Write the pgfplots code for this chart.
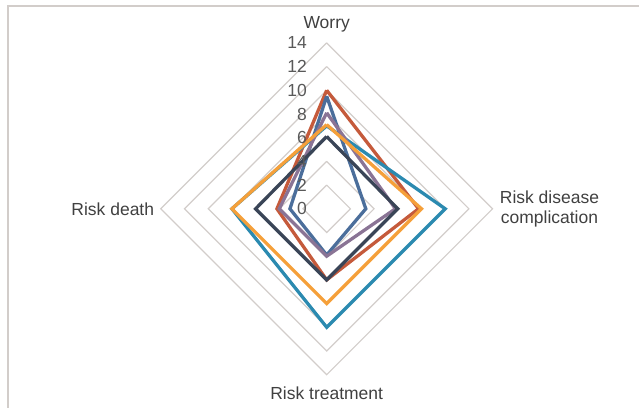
\documentclass[border=0pt]{standalone}
\usepackage{pgfplots}
\pgfplotsset{compat=1.18}
\usepackage{fontspec}
\setmainfont{Liberation Sans}
\definecolor{cred}{HTML}{C55A3B}
\definecolor{cteal}{HTML}{2B8AB0}
\definecolor{csteel}{HTML}{4B6E9B}
\definecolor{cpurple}{HTML}{8A7495}
\definecolor{cnavy}{HTML}{3A4557}
\definecolor{corange}{HTML}{F5A03A}
\definecolor{cgrid}{HTML}{D2CDCA}
\definecolor{ctext}{HTML}{404040}
\definecolor{cnum}{HTML}{595959}
\begin{document}
\begin{tikzpicture}
\begin{axis}[
  scale only axis, width=640bp, height=408bp,
  xmin=-27.57, xmax=26.39, ymin=-16.78, ymax=17.62,
  hide axis, clip=false,
  every axis plot/.append style={line join=miter},
]
\path (rel axis cs:0,0) rectangle (rel axis cs:1,1);
% frame
\draw[cgrid, line width=1.2bp] (rel axis cs:0.0125,0) -- (rel axis cs:0.0125,0.9853) -- (rel axis cs:1,0.9853);
% grid diamonds
\foreach \r in {2,4,6,8,10,12,14}{
  \edef\temp{\noexpand\addplot[cgrid, line width=1.2bp, forget plot] coordinates {(0,\r) (\r,0) (0,-\r) (-\r,0) (0,\r)};}
  \temp
}
% series
\addplot[cred, line width=3.3bp] coordinates {(0,10) (7.75,0) (0,-6) (-4.2,0) (0,10)};
\addplot[cteal, line width=3.3bp] coordinates {(0,7) (10,0) (0,-10) (-8,0) (0,7)};
\addplot[csteel, line width=3.3bp] coordinates {(0,9.5) (3.3,0) (0,-3.9) (-3.1,0) (0,9.5)};
\addplot[cpurple, line width=3.3bp] coordinates {(0,8.1) (5.8,0) (0,-4) (-4,0) (0,8.1)};
\addplot[cnavy, line width=3.3bp] coordinates {(0,6.1) (6,0) (0,-6) (-6,0) (0,6.1)};
\addplot[corange, line width=3.3bp] coordinates {(0,7.1) (8,0) (0,-8) (-8,0) (0,7.1)};
% tick numbers
\foreach \r in {0,2,4,6,8,10,12,14}{
  \edef\temp{\noexpand\node[anchor=east, text=cnum, font=\noexpand\fontsize{17.5bp}{19bp}\noexpand\selectfont, inner sep=0pt] at (axis cs:-1.65,\r) {\r};}
  \temp
}
% axis labels
\node[text=ctext, font=\fontsize{17.5bp}{19.5bp}\selectfont, inner sep=0pt] at (axis cs:0,15.6) {Worry};
\node[text=ctext, font=\fontsize{17.5bp}{19.5bp}\selectfont, inner sep=0pt, align=center] at (axis cs:18.8,0) {Risk disease\\complication};
\node[text=ctext, font=\fontsize{17.5bp}{19.5bp}\selectfont, inner sep=0pt] at (axis cs:0,-15.55) {Risk treatment};
\node[text=ctext, font=\fontsize{17.5bp}{19.5bp}\selectfont, inner sep=0pt, anchor=east] at (axis cs:-14.55,0) {Risk death};
\end{axis}
\end{tikzpicture}
\end{document}
